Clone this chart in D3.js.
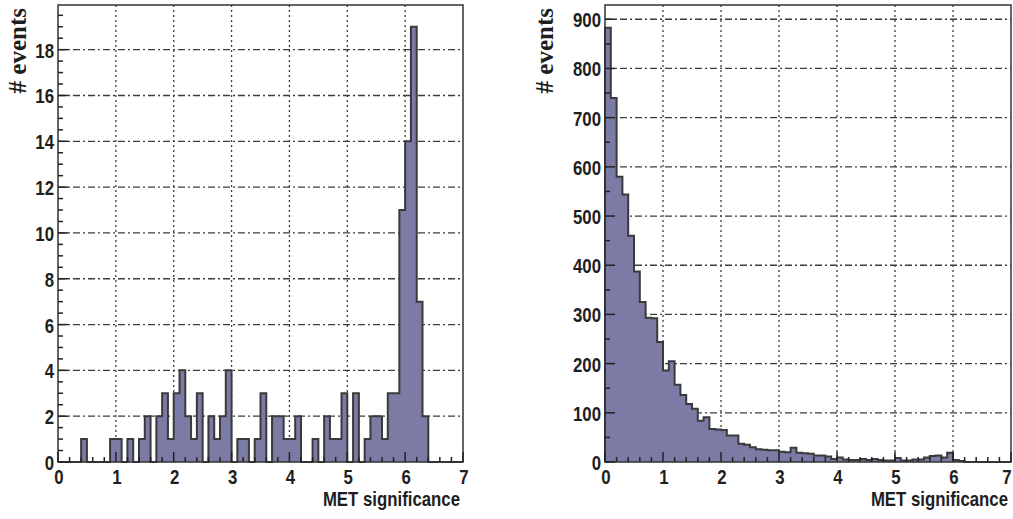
<!DOCTYPE html>
<html>
<head>
<meta charset="utf-8">
<script src="https://cdnjs.cloudflare.com/ajax/libs/d3/7.8.5/d3.min.js"></script>
<style>
  html, body { margin: 0; padding: 0; background: #fff; }
  svg { display: block; }
  .tick-label { font-family: "Liberation Sans", Arial, sans-serif; font-weight: bold; fill: #1e1e1e; }
  .axis-title { font-family: "Liberation Sans", Arial, sans-serif; font-weight: bold; fill: #1e1e1e; }
  .y-title { font-family: "Liberation Serif", "DejaVu Serif", serif; fill: #1e1e1e; }
</style>
</head>
<body>
<svg id="chart"></svg>
<script>
// histogram bins: 0.1 wide, starting at 0 (70 bins over 0..7)
const binWidth = 0.1;

// left plot: counts per bin
const leftCounts = [
  0, 0, 0, 0, 1, 0, 0, 0, 0, 1,
  1, 0, 1, 0, 1, 2, 0, 2, 3, 1,
  3, 4, 2, 1, 3, 0, 2, 1, 2, 4,
  0, 1, 1, 0, 1, 3, 0, 2, 2, 1,
  1, 2, 0, 0, 1, 0, 2, 1, 1, 3,
  0, 3, 0, 1, 2, 2, 1, 3, 3, 11,
  14, 19, 7, 2, 0, 0, 0, 0, 0, 0
];

// right plot: counts per bin
const rightCounts = [
  883, 740, 580, 544, 460, 387, 325, 293, 292, 244,
  186, 205, 157, 136, 118, 108, 84, 91, 67, 66,
  65, 54, 54, 37, 35, 30, 26, 25, 24, 24,
  21, 20, 29, 19, 18, 17, 13, 13, 11, 6,
  9, 5, 4, 4, 6, 4, 6, 4, 3, 3,
  8, 3, 3, 5, 5, 9, 12, 13, 9, 19,
  4, 2, 0, 0, 0, 0, 0, 0, 0, 0
];

const xTicks = [0, 1, 2, 3, 4, 5, 6, 7];
const leftYTicks = [0, 2, 4, 6, 8, 10, 12, 14, 16, 18];
const rightYTicks = [0, 100, 200, 300, 400, 500, 600, 700, 800, 900];

const xTitle = "MET significance";
const yTitle = "# events";

const width = 1013, height = 519;
const svg = d3.select("#chart").attr("width", width).attr("height", height);

const panels = [
  { counts: leftCounts, yTicks: leftYTicks, yMax: 19.95, yMinor: 0.5,
    left: 58, right: 463, top: 5, bottom: 462, yTitleX: 26 },
  { counts: rightCounts, yTicks: rightYTicks, yMax: 929, yMinor: 50,
    left: 605, right: 1011, top: 5, bottom: 462, yTitleX: 553 }
];

const fillColor = "#7b7ba5";
const lineColor = "#3a3a3a";
const gridColor = "#3c3c3c";
const squeeze = 0.8; // narrow, condensed look of the labels

panels.forEach(p => {
  const x = d3.scaleLinear().domain([0, 7]).range([p.left, p.right]);
  const y = d3.scaleLinear().domain([0, p.yMax]).range([p.bottom, p.top]);
  const g = svg.append("g");

  // grid
  g.selectAll(".hgrid")
    .data(p.yTicks.filter(d => d > 0))
    .enter().append("line")
    .attr("x1", p.left).attr("x2", p.right)
    .attr("y1", d => y(d)).attr("y2", d => y(d))
    .attr("stroke", gridColor).attr("stroke-width", 1.3)
    .attr("stroke-dasharray", "7,3,2,3");

  g.selectAll(".vgrid")
    .data(xTicks.filter(d => d > 0 && d < 7))
    .enter().append("line")
    .attr("x1", d => x(d)).attr("x2", d => x(d))
    .attr("y1", p.top).attr("y2", p.bottom)
    .attr("stroke", gridColor).attr("stroke-width", 1.3)
    .attr("stroke-dasharray", "2,3");

  // histogram as a step shape
  const pts = [[0, 0]];
  p.counts.forEach((c, i) => pts.push([i * binWidth, c]));
  pts.push([7, 0]);

  const area = d3.area()
    .x(d => x(d[0]))
    .y0(y(0))
    .y1(d => y(d[1]))
    .curve(d3.curveStepAfter);

  const line = d3.line()
    .x(d => x(d[0]))
    .y(d => y(d[1]))
    .curve(d3.curveStepAfter);

  g.append("path").datum(pts)
    .attr("d", area)
    .attr("fill", fillColor);

  g.append("path").datum(pts)
    .attr("d", line)
    .attr("fill", "none")
    .attr("stroke", lineColor)
    .attr("stroke-width", 2);

  // frame
  g.append("rect")
    .attr("x", p.left).attr("y", p.top)
    .attr("width", p.right - p.left).attr("height", p.bottom - p.top)
    .attr("fill", "none").attr("stroke", "#333").attr("stroke-width", 1.5);

  // y ticks (inward, left side)
  const yMinorTicks = d3.range(0, p.yMax, p.yMinor);
  g.selectAll(".ytick")
    .data(yMinorTicks)
    .enter().append("line")
    .attr("x1", p.left)
    .attr("x2", d => p.left + (p.yTicks.includes(d) ? 10 : 5))
    .attr("y1", d => y(d)).attr("y2", d => y(d))
    .attr("stroke", "#222").attr("stroke-width", 1.5);

  // x ticks (inward, bottom side)
  const xMinorTicks = d3.range(0, 7.01, 0.2).map(d => Math.round(d * 10) / 10);
  g.selectAll(".xtick")
    .data(xMinorTicks)
    .enter().append("line")
    .attr("x1", d => x(d)).attr("x2", d => x(d))
    .attr("y1", p.bottom)
    .attr("y2", d => p.bottom - (Number.isInteger(d) ? 10 : 5))
    .attr("stroke", "#222").attr("stroke-width", 1.5);

  // y tick labels
  g.selectAll(".ylabel")
    .data(p.yTicks)
    .enter().append("text")
    .attr("class", "tick-label")
    .attr("transform", d => `translate(${p.left - 4}, ${y(d) + 8}) scale(${squeeze}, 1)`)
    .attr("text-anchor", "end")
    .style("font-size", "21px")
    .text(d => d);

  // x tick labels (kept inside the page at the right edge)
  g.selectAll(".xlabel")
    .data(xTicks)
    .enter().append("text")
    .attr("class", "tick-label")
    .attr("transform", d => `translate(${Math.min(x(d) + 1, width - 6)}, ${p.bottom + 22}) scale(${squeeze}, 1)`)
    .attr("text-anchor", "middle")
    .style("font-size", "21px")
    .text(d => d);

  // axis titles
  g.append("text")
    .attr("class", "axis-title")
    .attr("transform", `translate(${p.right - 3}, ${p.bottom + 44}) scale(0.84, 1)`)
    .attr("text-anchor", "end")
    .style("font-size", "20px")
    .text(xTitle);

  g.append("text")
    .attr("class", "y-title")
    .attr("transform", `translate(${p.yTitleX}, ${p.top + 3}) rotate(-90)`)
    .attr("text-anchor", "end")
    .style("font-size", "25px")
    .style("font-weight", "bold")
    .text(yTitle);
});
</script>
</body>
</html>
